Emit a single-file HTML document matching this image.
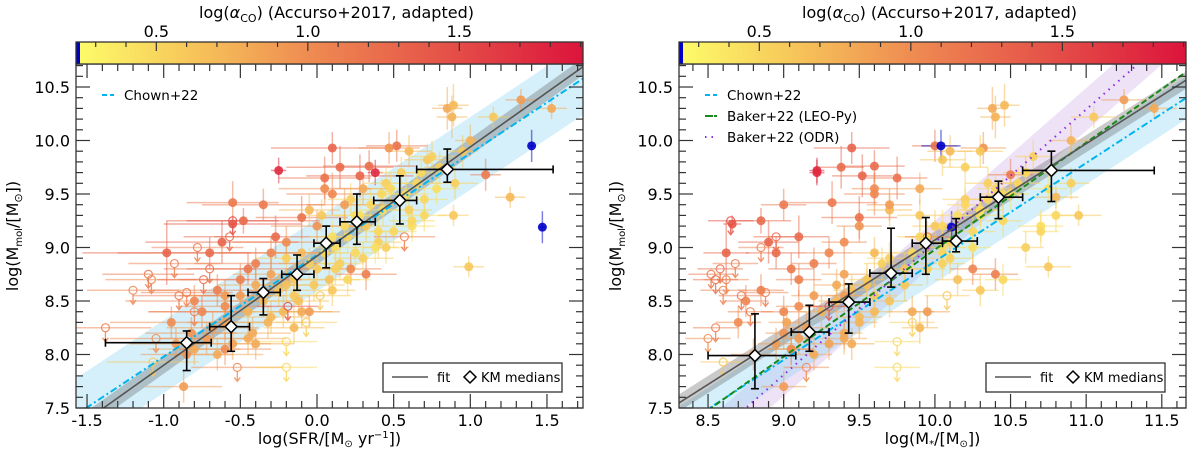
<!DOCTYPE html>
<html><head><meta charset="utf-8">
<style>
html,body{margin:0;padding:0;background:#fff;overflow:hidden;}
svg{display:block;font-family:"DejaVu Sans","Liberation Sans",sans-serif;}
</style></head>
<body>
<svg id="chart" width="1200" height="454" viewBox="0 0 1200 454" xmlns="http://www.w3.org/2000/svg"></svg>
<script>
// ---- data ----
// galaxies: [logSFR, logMstar, logMmol, logAlphaCO, isUpperLimit, errSFR, errMstar, errMmol]
const galaxies = [
[-0.98,8.62,8.95,1.30,0,0.55,0.15,0.3],[-0.70,8.95,8.95,1.25,0,0.6,0.2,0.15],[-0.62,8.90,9.05,1.30,0,0.5,0.2,0.2],
[-0.55,8.66,9.22,1.40,0,0.45,0.06,0.08],[-0.55,9.32,9.42,1.15,0,0.3,0.3,0.2],[-0.48,8.85,9.25,1.25,0,0.5,0.2,0.12],
[-0.25,9.22,9.72,1.75,0,0.05,0.05,0.12],[-0.10,9.50,9.28,1.20,0,0.3,0.25,0.2],[-0.27,9.10,9.10,1.25,0,0.4,0.2,0.2],
[0.10,9.45,9.93,1.30,0,0.4,0.25,0.15],[0.15,9.38,9.75,1.25,0,0.35,0.15,0.2],[0.28,9.52,9.67,1.30,0,0.35,0.2,0.2],
[0.34,9.60,9.76,1.25,0,0.3,0.2,0.15],[0.38,9.22,9.70,1.75,0,0.05,0.05,0.12],[0.05,9.75,9.65,1.20,0,0.3,0.2,0.2],
[0.10,9.60,9.50,1.05,0,0.3,0.2,0.2],[0.52,10.00,9.95,1.20,0,0.2,0.15,0.15],[0.47,10.32,9.93,0.95,0,0.2,0.15,0.15],
[0.60,10.10,9.90,0.70,0,0.15,0.15,0.15],[0.72,10.05,9.82,0.60,0,0.15,0.15,0.15],[0.80,10.20,9.75,0.55,0,0.1,0.15,0.15],
[0.95,10.30,9.90,0.60,0,0.1,0.15,0.15],[1.00,10.90,10.0,0.75,0,0.1,0.15,0.15],[1.10,10.50,9.68,1.15,0,0.1,0.15,0.15],
[0.85,10.38,10.30,0.80,0,0.1,0.1,0.2],[0.88,10.40,10.22,0.75,0,0.1,0.1,0.2],[0.89,10.46,10.33,0.70,0,0.1,0.1,0.2],
[1.15,11.05,10.22,0.60,0,0.1,0.15,0.1],[1.33,11.25,10.38,0.90,0,0.1,0.15,0.1],[1.53,11.45,10.30,0.80,0,0.1,0.15,0.1],
[1.26,10.80,9.47,0.70,0,0.1,0.15,0.1],[0.89,10.95,9.30,0.60,0,0.1,0.15,0.1],[0.99,10.75,8.82,0.60,0,0.1,0.15,0.1],
[1.40,10.04,9.95,0.15,0,0.02,0.13,0.15],[1.47,10.11,9.19,0.15,0,0.02,0.05,0.15],[0.70,10.35,9.45,0.50,0,0.15,0.15,0.15],
[0.60,10.30,9.35,0.55,0,0.15,0.15,0.15],[0.50,10.25,9.15,0.50,0,0.15,0.15,0.15],[0.40,10.10,9.05,0.55,0,0.15,0.15,0.15],
[0.32,10.00,9.20,0.60,0,0.15,0.15,0.15],[0.20,9.90,9.10,0.50,0,0.15,0.15,0.15],[0.15,10.05,8.85,0.55,0,0.15,0.15,0.15],
[0.00,9.80,8.80,0.60,0,0.15,0.15,0.15],[-0.10,9.60,8.95,0.70,0,0.2,0.15,0.15],[-0.05,9.70,9.35,0.70,0,0.2,0.15,0.15],
[0.03,9.90,9.30,0.60,0,0.15,0.15,0.15],[0.22,10.20,9.45,0.55,0,0.15,0.15,0.15],[0.45,10.35,9.60,0.55,0,0.15,0.15,0.15],
[0.65,10.55,9.60,0.50,0,0.15,0.15,0.15],[0.55,10.60,9.70,0.55,0,0.15,0.15,0.15],[-0.30,9.40,8.75,0.85,0,0.25,0.15,0.15],
[-0.40,9.35,8.65,0.80,0,0.25,0.15,0.15],[-0.50,9.20,8.55,0.90,0,0.3,0.15,0.15],[-0.60,9.10,8.45,1.00,0,0.3,0.15,0.15],
[-0.75,9.00,8.40,1.05,0,0.35,0.15,0.15],[-0.68,9.15,8.25,0.90,0,0.3,0.15,0.15],[-0.80,9.05,8.05,0.80,0,0.3,0.15,0.15],
[-0.60,9.05,8.05,1.00,0,0.3,0.15,0.15],[-0.45,9.40,8.15,0.80,0,0.25,0.15,0.15],[-0.30,9.50,8.35,0.70,0,0.25,0.15,0.15],
[-0.15,9.60,8.55,0.60,0,0.2,0.15,0.15],[-0.10,9.85,8.40,0.80,0,0.2,0.15,0.15],[-0.05,9.95,8.40,0.90,0,0.2,0.15,0.15],
[0.08,10.15,8.70,0.65,0,0.2,0.15,0.15],[0.22,10.25,8.80,1.05,0,0.2,0.15,0.15],[0.32,10.40,8.75,1.10,0,0.2,0.15,0.15],
[-0.40,9.45,8.10,0.80,0,0.25,0.15,0.15],[-0.87,9.00,7.70,0.90,0,0.25,0.15,0.15],[-0.95,8.70,8.30,1.00,0,0.4,0.15,0.15],
[-0.85,8.80,8.00,0.95,0,0.3,0.15,0.15],[-0.20,9.70,8.90,0.55,0,0.2,0.15,0.15],[0.30,10.10,8.90,0.55,0,0.2,0.15,0.15],
[0.12,10.05,9.00,0.45,0,0.15,0.15,0.15],[0.25,10.30,9.30,0.45,0,0.15,0.15,0.15],[0.62,10.70,9.20,0.45,0,0.15,0.15,0.15],
[-0.60,9.02,8.30,0.85,0,0.25,0.12,0.15],[-0.20,9.55,8.65,0.65,0,0.2,0.12,0.15],[0.42,10.45,9.50,0.50,0,0.15,0.15,0.15],
[-0.45,9.25,8.40,0.75,0,0.3,0.15,0.15],[-0.35,9.35,8.50,0.70,0,0.25,0.12,0.15],[-0.25,9.45,8.60,0.65,0,0.2,0.12,0.15],
[-0.15,9.55,8.70,0.60,0,0.2,0.12,0.15],[-0.05,9.65,8.85,0.55,0,0.2,0.12,0.15],[0.05,9.85,8.95,0.50,0,0.15,0.12,0.15],
[0.10,9.95,9.10,0.45,0,0.15,0.12,0.15],[0.18,10.05,9.20,0.50,0,0.15,0.12,0.15],[0.28,10.15,9.30,0.45,0,0.15,0.12,0.15],
[0.35,10.20,9.40,0.50,0,0.15,0.12,0.15],[0.43,10.30,9.35,0.45,0,0.15,0.12,0.15],[0.48,10.40,9.55,0.50,0,0.15,0.12,0.15],
[0.58,10.50,9.50,0.45,0,0.15,0.12,0.15],[0.68,10.60,9.70,0.50,0,0.15,0.12,0.15],[0.75,10.65,9.85,0.55,0,0.15,0.12,0.15],
[0.78,10.75,9.55,0.45,0,0.15,0.12,0.15],[0.62,10.45,9.25,0.50,0,0.15,0.12,0.15],[0.38,10.25,9.00,0.45,0,0.15,0.12,0.15],
[0.25,10.05,8.95,0.50,0,0.15,0.12,0.15],[0.12,9.95,8.80,0.55,0,0.15,0.12,0.15],[-0.02,9.80,8.65,0.60,0,0.2,0.12,0.15],
[-0.12,9.70,8.50,0.65,0,0.2,0.12,0.15],[-0.22,9.60,8.40,0.70,0,0.2,0.12,0.15],[-0.32,9.50,8.30,0.75,0,0.25,0.12,0.15],
[-0.42,9.40,8.20,0.80,0,0.25,0.12,0.15],[-0.55,9.30,8.10,0.85,0,0.25,0.12,0.15],[-0.65,9.20,8.00,0.80,0,0.3,0.12,0.15],
[-0.72,9.10,8.15,0.90,0,0.3,0.12,0.15],[-0.82,9.00,8.20,0.95,0,0.3,0.12,0.15],[-0.92,8.95,8.10,0.90,0,0.3,0.12,0.15],
[-0.50,9.10,8.70,1.10,0,0.4,0.15,0.15],[-0.40,9.20,8.85,1.10,0,0.4,0.15,0.15],[-0.30,9.30,8.95,1.05,0,0.35,0.15,0.15],
[-0.20,9.40,9.05,1.00,0,0.35,0.15,0.15],[-0.45,9.05,8.80,1.15,0,0.4,0.15,0.15],[-0.65,8.85,8.60,1.10,0,0.45,0.15,0.15],
[-0.80,8.75,8.50,1.05,0,0.45,0.15,0.15],[0.00,9.50,9.20,0.95,0,0.3,0.15,0.15],[0.18,9.70,9.40,0.90,0,0.25,0.15,0.15],
[0.30,9.90,9.55,0.80,0,0.2,0.15,0.15],[0.05,9.60,9.55,1.00,0,0.3,0.15,0.15],[-0.35,9.00,9.40,1.15,0,0.4,0.15,0.15],
[0.20,10.45,8.70,0.50,0,0.15,0.12,0.15],[0.45,10.60,9.00,0.55,0,0.15,0.12,0.15],[0.70,10.80,9.30,0.50,0,0.15,0.12,0.15],
[0.90,10.90,9.60,0.55,0,0.15,0.12,0.15],[0.40,10.70,9.15,0.50,0,0.15,0.12,0.15],[0.10,10.30,8.60,0.60,0,0.15,0.12,0.15],
[-0.15,9.90,8.25,0.70,0,0.2,0.12,0.15],[-0.60,9.40,8.55,0.90,0,0.3,0.12,0.15],
[-1.38,8.55,8.25,1.10,1,0.3,0.15,0],[-1.05,8.50,8.15,1.00,1,0.3,0.15,0],[-1.20,8.60,8.60,1.05,1,0.3,0.15,0],
[-1.08,8.62,8.70,1.05,1,0.3,0.15,0],[-1.10,8.52,8.75,1.15,1,0.3,0.15,0],[-0.93,8.68,8.85,1.10,1,0.3,0.15,0],
[-0.78,8.85,9.00,1.10,1,0.3,0.15,0],[-0.57,8.95,9.10,1.25,1,0.3,0.15,0],[-0.55,8.65,9.25,1.45,1,0.3,0.15,0],
[-0.74,8.55,8.70,1.20,1,0.3,0.15,0],[-0.90,8.72,8.55,1.15,1,0.3,0.15,0],[-0.70,8.58,8.80,1.20,1,0.3,0.15,0],
[-1.07,8.60,7.93,0.60,1,0.3,0.15,0],[-0.52,9.15,7.88,1.00,1,0.3,0.15,0],[-0.20,9.75,7.88,0.50,1,0.2,0.15,0],
[-0.20,9.75,8.12,0.50,1,0.2,0.15,0],[-0.07,9.85,8.30,0.55,1,0.2,0.15,0],[0.02,10.08,8.55,0.60,1,0.2,0.15,0],
[0.57,9.95,9.10,1.10,1,0.2,0.15,0],[-0.19,9.30,8.45,1.45,1,0.2,0.15,0],[-0.80,8.78,8.40,1.10,1,0.3,0.15,0],
[-0.85,8.88,8.58,1.10,1,0.3,0.15,0]
];
// KM medians: [x, y, xlo, xhi, ylo, yhi]
const kmLeft = [[-0.85,8.11,-1.38,-0.69,7.85,8.22],[-0.56,8.26,-0.70,-0.44,8.03,8.55],[-0.35,8.58,-0.45,-0.24,8.37,8.71],
[-0.13,8.75,-0.23,-0.02,8.60,8.93],[0.06,9.04,-0.02,0.15,8.81,9.20],[0.26,9.24,0.15,0.38,9.03,9.50],
[0.54,9.44,0.37,0.65,9.22,9.67],[0.85,9.73,0.65,1.54,9.61,9.92]];
const kmRight = [[8.81,7.99,8.50,9.08,7.68,8.38],[9.17,8.21,9.05,9.30,8.03,8.46],[9.43,8.49,9.30,9.57,8.20,8.66],
[9.71,8.76,9.57,9.85,8.63,9.18],[9.94,9.04,9.85,10.05,8.75,9.28],[10.14,9.06,10.05,10.28,8.96,9.27],
[10.42,9.47,10.30,10.58,9.27,9.62],[10.77,9.72,10.58,11.45,9.43,9.90]];
// relations: [x anchor, y at anchor, slope, band half-width]
const fitLeft = [0, 8.92, 1.02, 0.08];
const chownLeft = [0, 8.93, 0.95, 0.34];
const fitRight = [10, 9.07, 0.90, 0.08];
const chownRight = [10, 8.87, 0.92, 0.2];
const leopyRight = [10, 8.98, 1.00, 0.0];
const odrRight = [10, 9.05, 1.24, 0.2];
const xTicksLeft = [-1.5,-1.0,-0.5,0.0,0.5,1.0,1.5];
const xTicksRight = [8.5,9.0,9.5,10.0,10.5,11.0,11.5];
const yTicks = [7.5,8.0,8.5,9.0,9.5,10.0,10.5];
const cbTicks = [0.5,1.0,1.5];

// ---- drawing ----
const svg = document.getElementById('chart');
const NS = 'http://www.w3.org/2000/svg';
function mk(tag, attrs, parent){const e=document.createElementNS(NS,tag);for(const k in attrs)e.setAttribute(k,attrs[k]);(parent||svg).appendChild(e);return e;}
const cmapStops=[[0.235,[253,253,106]],[0.6,[247,200,90]],[1.0,[239,140,82]],[1.45,[229,82,72]],[1.91,[220,20,60]]];
function cmap(v){ if(v<0.235) return 'rgb(0,0,200)';
  for(let i=1;i<cmapStops.length;i++){ if(v<=cmapStops[i][0]){const a=cmapStops[i-1],b=cmapStops[i];const t=(v-a[0])/(b[0]-a[0]);
    return 'rgb('+a[1].map((c,j)=>Math.round(c+(b[1][j]-c)*t)).join(',')+')';}}
  return 'rgb(220,20,60)';}
const Y0=64,Y1=408,YMIN=7.5,YMAX=10.715;
const panels=[
 {name:'sfr',x0:76,x1:583,xmin:-1.572,xmax:1.735,xi:0,ex:5,km:kmLeft,xt:xTicksLeft},
 {name:'mstar',x0:679,x1:1186,xmin:8.308,xmax:11.66,xi:1,ex:6,km:kmRight,xt:xTicksRight}];
const defs=mk('defs',{});
panels.forEach((p,pi)=>{
  const sx=v=>p.x0+(v-p.xmin)/(p.xmax-p.xmin)*(p.x1-p.x0);
  const sy=v=>Y1-(v-YMIN)/(YMAX-YMIN)*(Y1-Y0);
  const cp=mk('clipPath',{id:'clip'+pi},defs); mk('rect',{x:p.x0,y:Y0,width:p.x1-p.x0,height:Y1-Y0},cp);
  const g=mk('g',{'clip-path':'url(#clip'+pi+')'});
  
  
  function band(rel,fill,op,name){ if(!rel[3])return;
    const a=p.xmin-0.1,b=p.xmax+0.1,f=x=>rel[1]+rel[2]*(x-rel[0]);
    const pts=[[a,f(a)+rel[3]],[b,f(b)+rel[3]],[b,f(b)-rel[3]],[a,f(a)-rel[3]]].map(q=>sx(q[0])+','+sy(q[1])).join(' ');
    const e=mk('polygon',{points:pts,fill:fill,'fill-opacity':op},g);
    
    }
  function line(rel,stroke,w,dash,name){const a=p.xmin-0.1,b=p.xmax+0.1,f=x=>rel[1]+rel[2]*(x-rel[0]);
    const e=mk('line',{x1:sx(a),y1:sy(f(a)),x2:sx(b),y2:sy(f(b)),stroke:stroke,'stroke-width':w,'stroke-dasharray':dash||'none'},g);
    
    }
  if(pi===0){ band(chownLeft,'#87d3f0',0.35,'chown-band'); band(fitLeft,'#666',0.35,'fit-band'); }
  else { band(odrRight,'#c8a0e6',0.3,'odr-band'); band(chownRight,'#87d3f0',0.35,'chown-band'); band(fitRight,'#666',0.35,'fit-band'); }
  galaxies.forEach(d=>{const x=d[p.xi],y=d[2],c=cmap(d[3]),ex=d[p.ex];
    const e1=mk('line',{x1:sx(x-ex),x2:sx(x+ex),y1:sy(y),y2:sy(y),stroke:c,'stroke-width':1.5,'stroke-opacity':0.5},g);
    
    
    if(!d[4]){const e2=mk('line',{x1:sx(x),x2:sx(x),y1:sy(y-d[7]),y2:sy(y+d[7]),stroke:c,'stroke-width':1.5,'stroke-opacity':0.5},g);
      
      }
  });
  galaxies.forEach(d=>{const x=d[p.xi],y=d[2],c=cmap(d[3]);
    if(d[4]){const cx=sx(x),cy=sy(y);
      const c1=mk('circle',{cx:cx,cy:cy,r:4,fill:'none',stroke:c,'stroke-width':1.2,opacity:0.85},g);
      
      
      const ar=mk('path',{d:`M${cx},${cy+4}V${cy+14}M${cx-3},${cy+10}L${cx},${cy+14}L${cx+3},${cy+10}`,fill:'none',stroke:c,'stroke-width':1.3,opacity:0.85},g);
      
      
    } else {const c2=mk('circle',{cx:sx(x),cy:sy(y),r:4.5,fill:c,opacity:0.9},g);
      
      }
  });
  if(pi===0){ line(chownLeft,'#00b4f0',2,'7 3 2 3','chown-line'); line(fitLeft,'#555',1.6,null,'fit-line'); }
  else { line(chownRight,'#00b4f0',2,'7 3 2 3','chown-line'); line(leopyRight,'#1a8a1a',2,'6 3','leopy-line'); line(odrRight,'#8a2be2',2,'1.5 5','odr-line'); line(fitRight,'#555',1.6,null,'fit-line'); }
  p.km.forEach(k=>{
    const gk=mk('g',{stroke:'#000','stroke-width':1.6,fill:'none'},g);
    
    
    mk('line',{x1:sx(k[2]),x2:sx(k[3]),y1:sy(k[1]),y2:sy(k[1])},gk);
    mk('line',{x1:sx(k[0]),x2:sx(k[0]),y1:sy(k[4]),y2:sy(k[5])},gk);
    [k[2],k[3]].forEach(q=>mk('line',{x1:sx(q),x2:sx(q),y1:sy(k[1])-4,y2:sy(k[1])+4},gk));
    [k[4],k[5]].forEach(q=>mk('line',{x1:sx(k[0])-4,x2:sx(k[0])+4,y1:sy(q),y2:sy(q)},gk));
    const cx=sx(k[0]),cy=sy(k[1]);
    mk('path',{d:`M${cx},${cy-6}L${cx+6},${cy}L${cx},${cy+6}L${cx-6},${cy}Z`,fill:'#fff',stroke:'#000','stroke-width':1.5},gk);
  });
  const fr=mk('rect',{x:p.x0,y:Y0,width:p.x1-p.x0,height:Y1-Y0,fill:'none',stroke:'#333','stroke-width':1.3});
  
  
  const tk=mk('g',{stroke:'#333','stroke-width':1.2});
  
  
  for(let v=Math.ceil(p.xmin*10);v<=Math.floor(p.xmax*10);v++){const X=sx(v/10),L=(v%5===0)?14:7;
    mk('line',{x1:X,x2:X,y1:Y1,y2:Y1-L},tk); mk('line',{x1:X,x2:X,y1:Y0,y2:Y0+L},tk);}
  for(let v=75;v<=107;v++){const Y=sy(v/10),L=(v%5===0)?14:7;
    mk('line',{x1:p.x0,x2:p.x0+L,y1:Y,y2:Y},tk); mk('line',{x1:p.x1,x2:p.x1-L,y1:Y,y2:Y},tk);}
  p.xt.forEach(v=>{const t=mk('text',{x:sx(v),y:426,'font-size':16,'text-anchor':'middle',fill:'#000'});t.textContent=v.toFixed(1);
    
    });
  yTicks.forEach(v=>{const t=mk('text',{x:p.x0-6,y:sy(v)+6,'font-size':16,'text-anchor':'end',fill:'#000'});t.textContent=v.toFixed(1);
    
    });
  const gid='cg'+pi; const lg=mk('linearGradient',{id:gid,x1:0,x2:1,y1:0,y2:0},defs);
  cmapStops.forEach(s=>mk('stop',{offset:(s[0]-0.235)/(1.908-0.235),'stop-color':'rgb('+s[1].join(',')+')'},lg));
  const cb=mk('g',{});
  
  
  const cbx=v=>p.x0+(v-0.235)/(1.908-0.235)*(p.x1-p.x0);
  mk('rect',{x:p.x0,y:42,width:p.x1-p.x0,height:22,fill:'url(#'+gid+')'},cb);
  mk('rect',{x:p.x0,y:42,width:4,height:22,fill:'#0000c8'},cb);
  for(let v=3;v<=19;v++){const X=cbx(v/10),L=(v%5===0)?9:5; mk('line',{x1:X,x2:X,y1:42,y2:42+L,stroke:'#333','stroke-width':1.2},cb);}
  mk('rect',{x:p.x0,y:42,width:p.x1-p.x0,height:22,fill:'none',stroke:'#333','stroke-width':1.3},cb);
  cbTicks.forEach(v=>{const t=mk('text',{x:cbx(v),y:37,'font-size':16,'text-anchor':'middle'},cb);t.textContent=v.toFixed(1);});
  const ct=mk('text',{x:(p.x0+p.x1)/2+7,y:18,'font-size':16,'text-anchor':'middle'});
  
  
  ct.innerHTML='log(<tspan font-style="italic">α</tspan><tspan font-size="11" dy="4">CO</tspan><tspan dy="-4">) (Accurso+2017, adapted)</tspan>';
  const yl=mk('text',{x:0,y:0,'font-size':16,'text-anchor':'middle',transform:`translate(${p.x0-58},${(Y0+Y1)/2}) rotate(-90)`});
  
  
  yl.innerHTML='log(M<tspan font-size="10" dy="4">mol</tspan><tspan dy="-4">/[M</tspan><tspan font-size="11" dy="4">⊙</tspan><tspan dy="-4">])</tspan>';
  const xl=mk('text',{x:(p.x0+p.x1)/2,y:444,'font-size':16,'text-anchor':'middle'});
  
  
  if(pi===0) xl.innerHTML='log(SFR/[M<tspan font-size="10" dy="3">⊙</tspan><tspan dy="-3"> yr</tspan><tspan font-size="10" dy="-6">−1</tspan><tspan dy="6">])</tspan>';
  else xl.innerHTML='log(M<tspan font-size="10" dy="3">*</tspan><tspan dy="-3">/[M</tspan><tspan font-size="10" dy="3">⊙</tspan><tspan dy="-3">])</tspan>';
  const lb=mk('g',{});
  
  
  const lx=p.x0+307;
  mk('rect',{x:lx,y:363,width:179,height:29,fill:'#fff',stroke:'#333','stroke-width':1.3},lb);
  mk('line',{x1:lx+9,x2:lx+45,y1:377,y2:377,stroke:'#555','stroke-width':1.6},lb);
  const t1=mk('text',{x:lx+54,y:382,'font-size':13},lb);t1.textContent='fit';
  mk('path',{d:`M${lx+87},${371}L${lx+93},377L${lx+87},383L${lx+81},377Z`,fill:'#fff',stroke:'#000','stroke-width':1.5},lb);
  const t2=mk('text',{x:lx+98,y:382,'font-size':13},lb);t2.textContent='KM medians';
  const ll=mk('g',{});
  
  
  const entries = pi===0 ? [['Chown+22','#00b4f0','5 3']] : [['Chown+22','#00b4f0','5 3'],['Baker+22 (LEO-Py)','#1a8a1a','8 1'],['Baker+22 (ODR)','#8a2be2','1.5 5']];
  entries.forEach((e,i)=>{const y=96+i*21;
    mk('line',{x1:p.x0+26,x2:p.x0+38,y1:y-1,y2:y-1,stroke:e[1],'stroke-width':2,'stroke-dasharray':e[2]},ll);
    const t=mk('text',{x:p.x0+48,y:y+4,'font-size':13.5},ll);t.textContent=e[0];});
});
</script>
</body></html>
